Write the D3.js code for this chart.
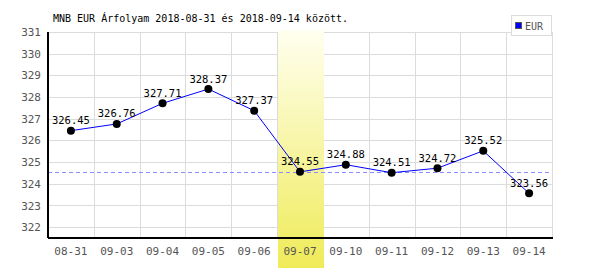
<!DOCTYPE html>
<html>
<head>
<meta charset="utf-8">
<script src="https://cdn.jsdelivr.net/npm/d3@7"></script>
<style>
body { margin: 0; background: #fff; }
text { font-family: "DejaVu Sans Mono", monospace; }
</style>
</head>
<body>
<div id="chart"></div>
<script>
var dates = ["08-31","09-03","09-04","09-05","09-06","09-07","09-10","09-11","09-12","09-13","09-14"];
var rates = [326.45, 326.76, 327.71, 328.37, 327.37, 324.55, 324.88, 324.51, 324.72, 325.52, 323.56];
var yTicks = [322, 323, 324, 325, 326, 327, 328, 329, 330, 331];
var highlightDay = "09-07";
var refRate = 324.55;
var seriesName = "EUR";
var title = "MNB EUR Árfolyam 2018-08-31 és 2018-09-14 között.";

var width = 600, height = 270;
var plotLeft = 48, plotRight = 552, plotTop = 32, plotBottom = 238;

var svg = d3.select("#chart").append("svg")
    .attr("width", width)
    .attr("height", height);

var x = d3.scaleBand().domain(dates).range([plotLeft, plotRight]);
var y = d3.scaleLinear().domain([321.5, 331]).range([plotBottom, plotTop]);

var grad = svg.append("defs").append("linearGradient")
    .attr("id", "hl")
    .attr("x1", 0).attr("y1", 0).attr("x2", 0).attr("y2", 1);
grad.append("stop").attr("offset", "0%").attr("stop-color", "#fffff0");
grad.append("stop").attr("offset", "100%").attr("stop-color", "#efeb58");

// grid
svg.append("g").selectAll("line")
    .data(yTicks)
    .enter().append("line")
    .attr("x1", plotLeft).attr("x2", plotRight)
    .attr("y1", d => Math.round(y(d)) + 0.5)
    .attr("y2", d => Math.round(y(d)) + 0.5)
    .attr("stroke", "#dcdcdc");

svg.append("g").selectAll("line")
    .data(dates.slice(1).map(d => x(d)).concat([plotRight]))
    .enter().append("line")
    .attr("x1", d => Math.round(d) + 0.5).attr("x2", d => Math.round(d) + 0.5)
    .attr("y1", plotTop).attr("y2", plotBottom)
    .attr("stroke", "#dcdcdc");

// highlighted day
svg.append("rect")
    .attr("x", Math.round(x(highlightDay)) + 1)
    .attr("y", 30)
    .attr("width", Math.round(x.bandwidth()))
    .attr("height", height - 2 - 30)
    .attr("fill", "url(#hl)");

// reference line
svg.append("line")
    .attr("x1", plotLeft).attr("x2", plotRight)
    .attr("y1", Math.round(y(refRate)) + 0.5)
    .attr("y2", Math.round(y(refRate)) + 0.5)
    .attr("stroke", "#8c8cff")
    .attr("stroke-dasharray", "4,3");

// axes
var yAxis = svg.append("g")
    .attr("transform", "translate(" + plotLeft + ",0)")
    .call(d3.axisLeft(y).tickValues(yTicks).tickSize(0).tickPadding(7).tickFormat(d3.format("d")));
var xAxis = svg.append("g")
    .attr("transform", "translate(0," + plotBottom + ")")
    .call(d3.axisBottom(x).tickSize(0).tickPadding(7));

[yAxis, xAxis].forEach(function(a) {
    a.select(".domain").attr("stroke", "#000").attr("stroke-width", 2);
    a.selectAll("text")
        .attr("fill", "#555")
        .style("font-size", "11px")
        .style("font-family", "'DejaVu Sans Mono', monospace");
});
xAxis.select(".domain").attr("d", "M" + plotLeft + ",0H" + (plotRight + 1));
yAxis.select(".domain").attr("d", "M0," + plotTop + "V" + plotBottom);
xAxis.selectAll("text").attr("dy", "0.9em");

// series
var line = d3.line()
    .x((d, i) => x(dates[i]) + x.bandwidth() / 2)
    .y(d => y(d));

svg.append("path")
    .datum(rates)
    .attr("d", line)
    .attr("fill", "none")
    .attr("stroke", "#0000ff")
    .attr("stroke-width", 1);

svg.append("g").selectAll("circle")
    .data(rates)
    .enter().append("circle")
    .attr("cx", (d, i) => x(dates[i]) + x.bandwidth() / 2)
    .attr("cy", d => y(d))
    .attr("r", 4)
    .attr("fill", "#000");

svg.append("g").selectAll("text")
    .data(rates)
    .enter().append("text")
    .attr("x", (d, i) => x(dates[i]) + x.bandwidth() / 2)
    .attr("y", d => y(d) - 6.5)
    .attr("text-anchor", "middle")
    .style("font-size", "10.5px")
    .attr("fill", "#000")
    .text(d => d.toFixed(2));

// title
svg.append("text")
    .attr("x", 53)
    .attr("y", 22)
    .style("font-size", "10px")
    .attr("fill", "#000")
    .text(title);

// legend
var lg = svg.append("g");
lg.append("rect")
    .attr("x", 511.5).attr("y", 15.5)
    .attr("width", 40).attr("height", 20)
    .attr("fill", "#fff")
    .attr("stroke", "#dcdcdc");
lg.append("rect")
    .attr("x", 515.5).attr("y", 22.5)
    .attr("width", 6).attr("height", 6)
    .attr("fill", "#0000ff")
    .attr("stroke", "#555");
lg.append("text")
    .attr("x", 525).attr("y", 30)
    .style("font-size", "10px")
    .attr("fill", "#555")
    .text(seriesName);
</script>
</body>
</html>
